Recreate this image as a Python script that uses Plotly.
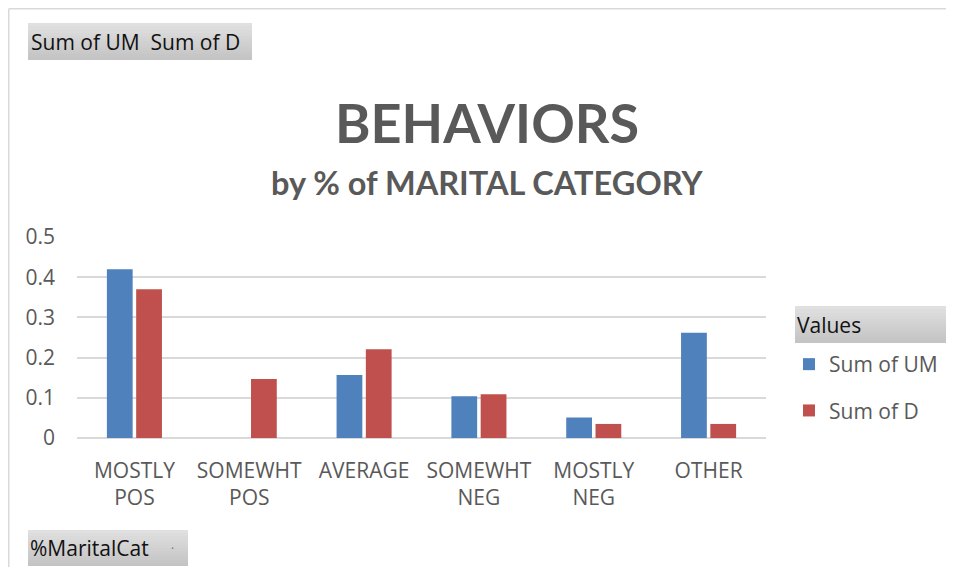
import plotly.graph_objects as go

categories = ["MOSTLY<br>POS", "SOMEWHT<br>POS", "AVERAGE", "SOMEWHT<br>NEG", "MOSTLY<br>NEG", "OTHER"]
sum_um = [0.42, 0.0, 0.157, 0.104, 0.051, 0.262]
sum_d = [0.37, 0.147, 0.221, 0.109, 0.035, 0.035]
y_ticks = [0, 0.1, 0.2, 0.3, 0.4, 0.5]
y_labels = ["0", "0.1", "0.2", "0.3", "0.4", "0.5"]

OFF = 8  # page body margin
W, H = 954 - 2 * OFF, 575 - 2 * OFF
PL, PR, PT, PB = 77, 766, 237, 438  # plot area in page pixels
L, R, T, B = PL - OFF, W - (PR - OFF), PT - OFF, H - (PB - OFF)

fig = go.Figure()
fig.add_trace(go.Bar(x=categories, y=sum_um, name="Sum of UM", legendgroup="a",
                     marker=dict(color="#4F81BD", line=dict(width=0))))
fig.add_trace(go.Bar(x=categories, y=sum_d, name="Sum of D", legendgroup="b",
                     marker=dict(color="#C0504D", line=dict(width=0))))

def px_x(p):
    return (p - OFF - L) / (W - L - R)

def px_y(p):
    return (H - B - (p - OFF)) / (H - T - B)

def cx(p):
    return (p - OFF) / W

def cy(p):
    return 1 - (p - OFF) / H

shapes = []
shapes.append(dict(type="line", xref="paper", yref="paper", x0=px_x(8.75), x1=px_x(960), y0=px_y(8.75), y1=px_y(8.75),
                   line=dict(color="#d9d9d9", width=1.5)))
shapes.append(dict(type="line", xref="paper", yref="paper", x0=px_x(8.75), x1=px_x(8.75), y0=px_y(8.75), y1=px_y(580),
                   line=dict(color="#d9d9d9", width=1.5)))

def button(x0, y0, x1, y1):
    n = 12
    c0 = (224, 224, 224)
    c1 = (196, 196, 196)
    h = (y1 - y0) / n
    for i in range(n):
        t = i / (n - 1)
        c = tuple(int(c0[k] + (c1[k] - c0[k]) * t) for k in range(3))
        shapes.append(dict(type="rect", xref="paper", yref="paper",
                           x0=px_x(x0), x1=px_x(x1), y0=px_y(y0 + i * h), y1=px_y(min(y1, y0 + (i + 1) * h + 0.5)),
                           fillcolor="rgb(%d,%d,%d)" % c, line=dict(width=0), layer="below"))

button(28, 23, 252, 60)
button(28, 530, 188, 566)
button(795, 306, 948, 343)

FONT = "Open Sans"
annotations = [
    dict(text="Sum of UM  Sum of D", xref="paper", yref="paper", x=px_x(29), y=px_y(42), xanchor="left",
         yanchor="middle", showarrow=False, font=dict(family=FONT, size=21, color="#111111")),
    dict(text="%MaritalCat", xref="paper", yref="paper", x=px_x(28), y=px_y(548), xanchor="left",
         yanchor="middle", showarrow=False, font=dict(family=FONT, size=21, color="#111111")),
    dict(text="·", xref="paper", yref="paper", x=px_x(172), y=px_y(548), xanchor="center",
         yanchor="middle", showarrow=False, font=dict(family=FONT, size=12, color="#777777")),
    dict(text="Values", xref="paper", yref="paper", x=px_x(795), y=px_y(325), xanchor="left",
         yanchor="middle", showarrow=False, font=dict(family=FONT, size=21, color="#111111")),
    dict(text="<b>BEHAVIORS</b>", xref="paper", yref="paper", x=px_x(487), y=px_y(122), xanchor="center",
         yanchor="middle", showarrow=False, font=dict(family="Lato", size=54, color="#595959")),
    dict(text="<b>by % of MARITAL CATEGORY</b>", xref="paper", yref="paper", x=px_x(487), y=px_y(183),
         xanchor="center", yanchor="middle", showarrow=False, font=dict(family="Lato", size=32.5, color="#595959")),
]

fig.update_layout(
    width=W, height=H,
    margin=dict(l=L, r=R, t=T, b=B, pad=0, autoexpand=False),
    paper_bgcolor="white", plot_bgcolor="white",
    barmode="group", bargap=0.49, bargroupgap=0.12,
    showlegend=True,
    legend=dict(xref="container", yref="container", x=cx(789), y=cy(344), xanchor="left", yanchor="top",
                font=dict(family=FONT, size=21, color="#595959"),
                traceorder="grouped", tracegroupgap=16, itemwidth=30,
                bgcolor="rgba(0,0,0,0)"),
    shapes=shapes,
    annotations=annotations,
    xaxis=dict(showgrid=False, showline=False, ticks="", ticklabelstandoff=18,
               tickfont=dict(family=FONT, size=21, color="#595959")),
    yaxis=dict(range=[0, 0.5], tickvals=y_ticks, ticktext=y_labels, showgrid=True, gridcolor="#d9d9d9",
               gridwidth=1.5, zeroline=True, zerolinecolor="#d9d9d9", zerolinewidth=1.5, showline=False,
               ticks="", ticklabelstandoff=21,
               tickfont=dict(family=FONT, size=21, color="#595959")),
)

fig.write_html("out.html")
